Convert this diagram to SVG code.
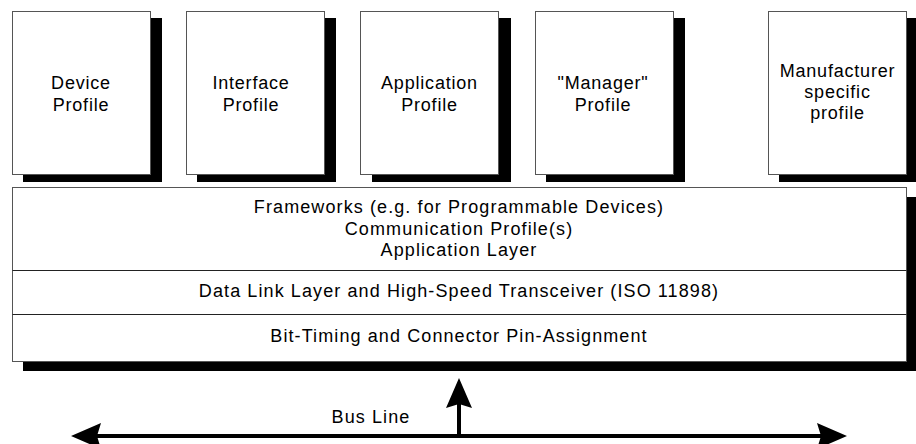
<svg xmlns="http://www.w3.org/2000/svg" width="916" height="444" viewBox="0 0 916 444">
<style>
.shadow{fill:#000}
.box{fill:#fff;stroke:#555;stroke-width:1}
.div{stroke:#222;stroke-width:1}
text{font-family:"Liberation Sans",Arial,sans-serif;font-size:18px;fill:#000;text-anchor:middle}
.lbl{letter-spacing:0.8px}
.layer{letter-spacing:1.1px}
.bus{stroke:#000;stroke-width:4;fill:none}
</style>
<defs>
<marker id="ah" viewBox="0 0 30 26" refX="4" refY="13" markerWidth="30" markerHeight="26" markerUnits="userSpaceOnUse" orient="auto-start-reverse">
<path d="M0,0 L30,13 L0,26 L4,13 z" fill="#000"/>
</marker>
</defs>
<g id="device-profile">
<rect class="shadow" x="23" y="18" width="139" height="164"/>
<rect class="box" x="12.5" y="11.5" width="138" height="163"/>
<text class="lbl" x="81" y="89">Device</text>
<text class="lbl" x="81" y="111">Profile</text>
</g>
<g id="interface-profile">
<rect class="shadow" x="197" y="18" width="139" height="164"/>
<rect class="box" x="186.5" y="11.5" width="138" height="163"/>
<text class="lbl" x="251" y="89">Interface</text>
<text class="lbl" x="251" y="111">Profile</text>
</g>
<g id="application-profile">
<rect class="shadow" x="372" y="18" width="139" height="164"/>
<rect class="box" x="360.5" y="11.5" width="138" height="163"/>
<text class="lbl" x="429.5" y="89">Application</text>
<text class="lbl" x="429.5" y="111">Profile</text>
</g>
<g id="manager-profile">
<rect class="shadow" x="546" y="18" width="139" height="164"/>
<rect class="box" x="535.5" y="11.5" width="138" height="163"/>
<text class="lbl" x="603" y="89">"Manager"</text>
<text class="lbl" x="603" y="111">Profile</text>
</g>
<g id="manufacturer-profile">
<rect class="shadow" x="779" y="18" width="139" height="164"/>
<rect class="box" x="768.5" y="11.5" width="138" height="163"/>
<text class="lbl" x="837.5" y="77">Manufacturer</text>
<text class="lbl" x="837.5" y="98">specific</text>
<text class="lbl" x="837.5" y="118.5">profile</text>
</g>
<g id="layer-stack">
<rect class="shadow" x="23" y="197" width="893" height="174"/>
<rect class="box" x="12.5" y="187.5" width="894" height="174"/>
<line class="div" x1="12.5" y1="270.5" x2="906.5" y2="270.5"/>
<line class="div" x1="12.5" y1="314.5" x2="906.5" y2="314.5"/>
<text class="layer" x="459" y="213">Frameworks (e.g. for Programmable Devices)</text>
<text class="layer" x="459" y="234.5">Communication Profile(s)</text>
<text class="layer" x="459" y="256">Application Layer</text>
<text class="layer" x="459" y="297">Data Link Layer and High-Speed Transceiver (ISO 11898)</text>
<text class="layer" x="459" y="342">Bit-Timing and Connector Pin-Assignment</text>
</g>
<g id="connectors">
<line class="bus" x1="97" y1="436" x2="821" y2="436" marker-start="url(#ah)" marker-end="url(#ah)"/>
<line class="bus" x1="459" y1="436" x2="459" y2="404" marker-end="url(#ah)"/>
<text class="layer" x="371" y="423">Bus Line</text>
</g>
</svg>
